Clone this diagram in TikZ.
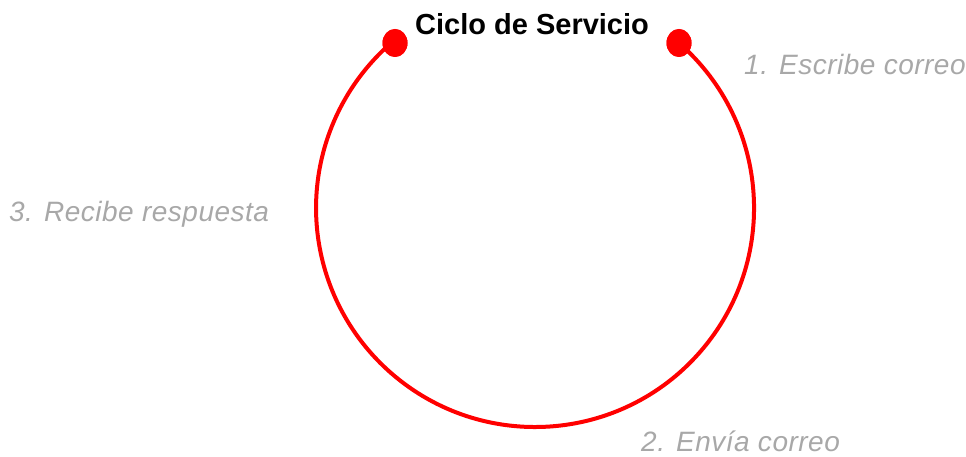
\documentclass[tikz,border=0pt]{standalone}
\usepackage{fontspec}
\setmainfont{Liberation Sans}
\newfontfamily\labelfont[LetterSpace=1.8]{Liberation Sans}
\usetikzlibrary{shapes.geometric}
\definecolor{cyclered}{RGB}{255,0,0}
\definecolor{labelgray}{RGB}{168,168,168}
\tikzset{
  cycleline/.style={draw=cyclered, line width=4pt},
  enddot/.style={ellipse, fill=cyclered, draw=none, minimum width=25pt, minimum height=28pt, inner sep=0pt},
  steplabel/.style={anchor=base west, inner sep=0pt, text=labelgray, font=\labelfont\itshape\fontsize{28}{33}\selectfont},
  titlelabel/.style={anchor=base west, inner sep=0pt, font=\bfseries\fontsize{29}{34}\selectfont}
}
\begin{document}
\begin{tikzpicture}[x=1pt,y=1pt]
\useasboundingbox (0,0) rectangle (966,457);
\node[enddot] (rdot) at (679,414) {};
\node[enddot] (ldot) at (395,414) {};
\draw[cycleline] (rdot.center) arc[start angle=48.9, end angle=-229.3, radius=219];
\node[enddot] at (rdot) {};
\node[enddot] at (ldot) {};
\node[titlelabel] (title) at (415,422) {Ciclo de Servicio};
\node[steplabel] (s1) at (744,382) {1. Escribe correo};
\node[steplabel] (s2) at (641,5) {2. Envía correo};
\node[steplabel] (s3) at (9,235) {3. Recibe respuesta};
\end{tikzpicture}
\end{document}
